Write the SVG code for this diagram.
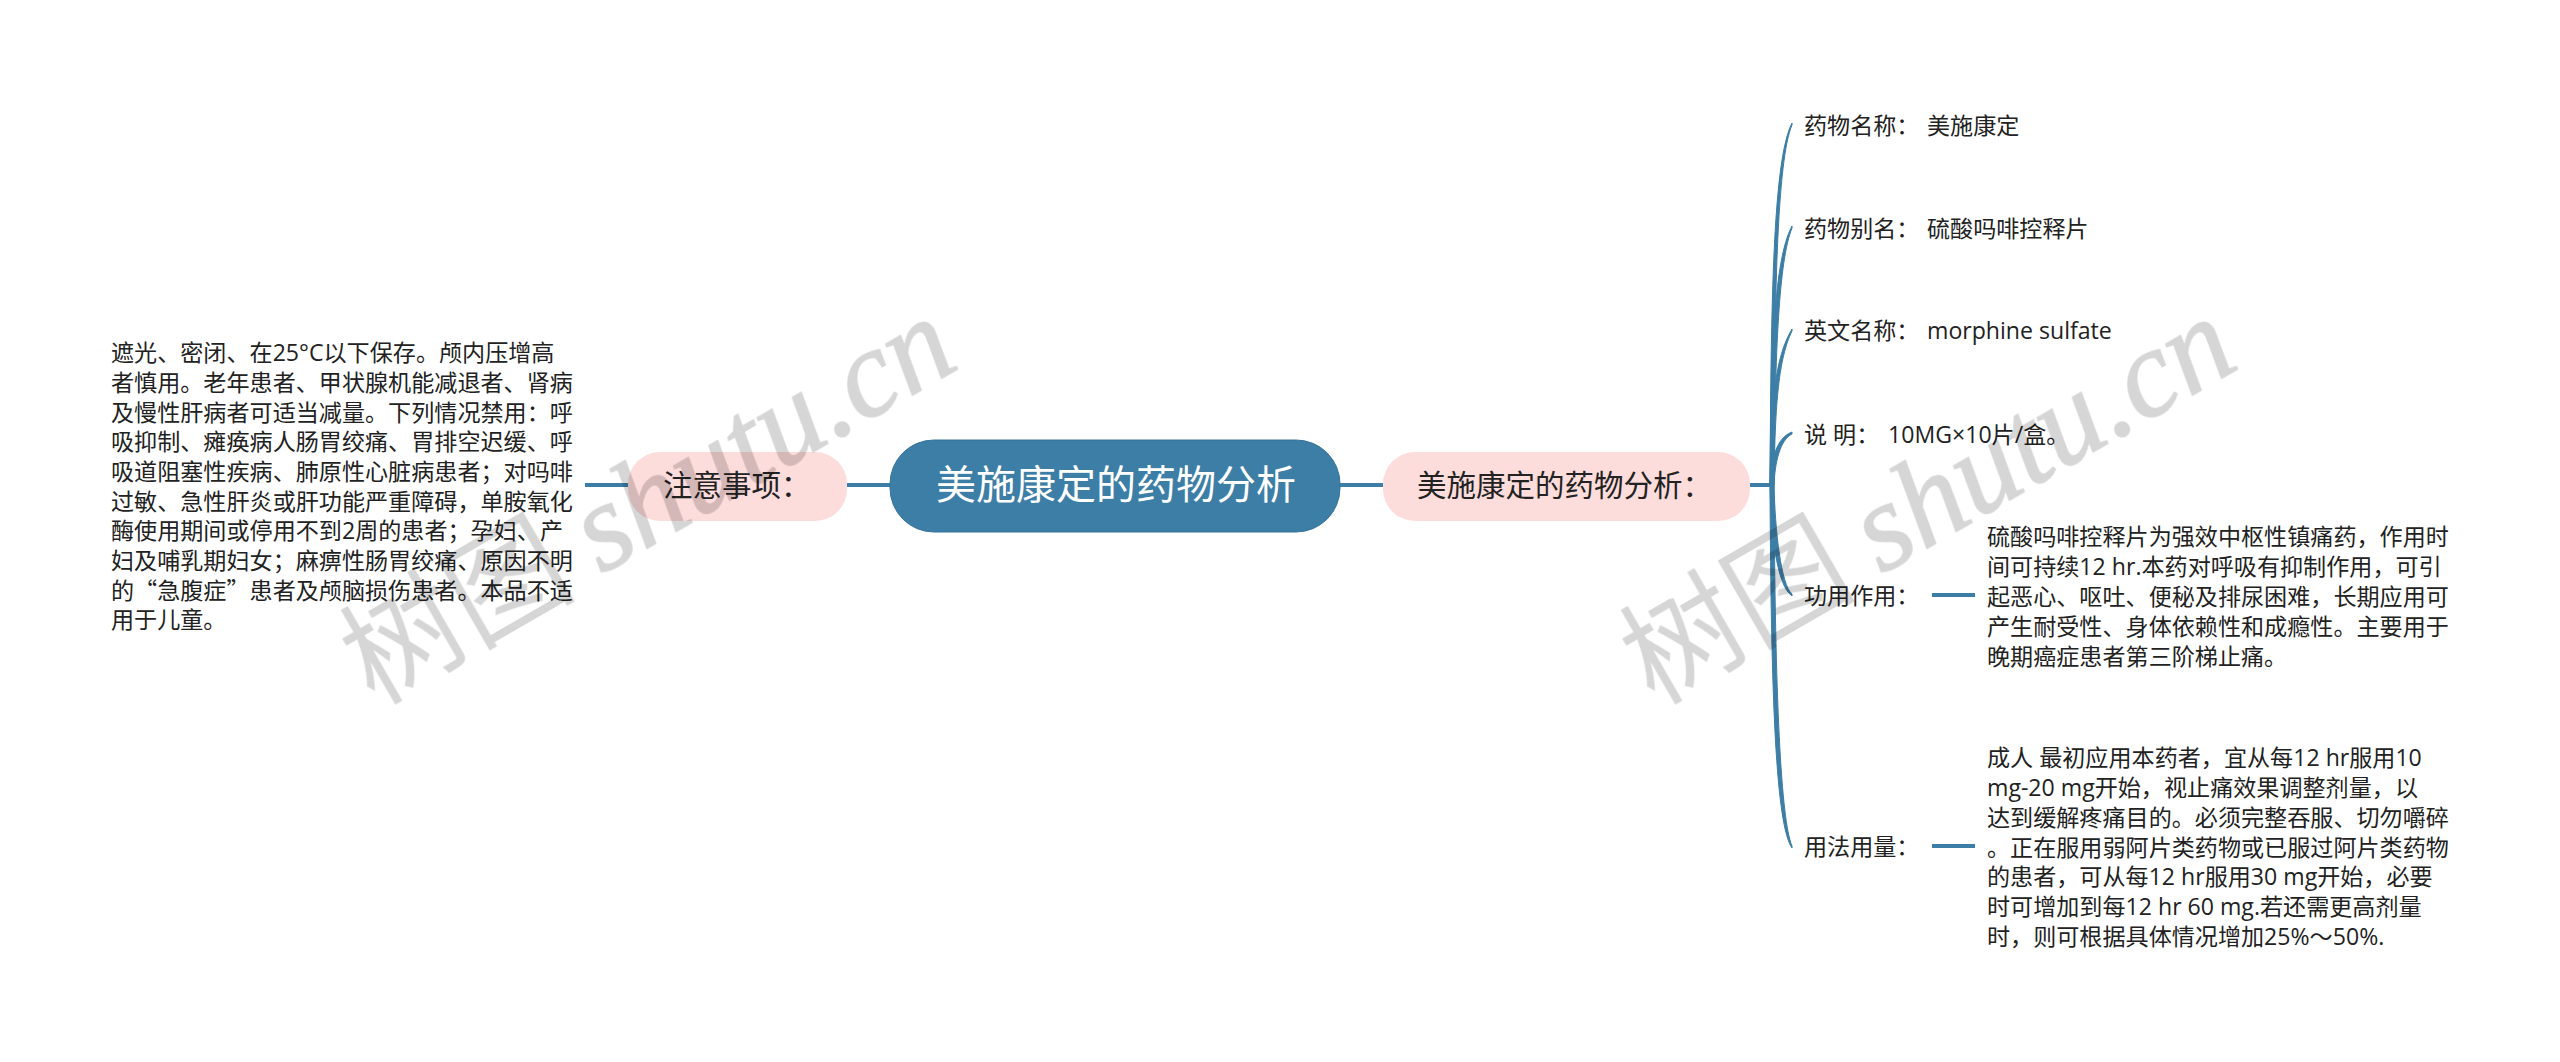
<svg xmlns="http://www.w3.org/2000/svg" width="2560" height="1062" viewBox="0 0 2560 1062">
<style>
text{font-family:"Open Sans","Noto Sans CJK SC",sans-serif;fill:#222}
.t{font-size:23.1px}
.q{font-family:"Noto Sans CJK SC",sans-serif}
.sub{font-size:29.5px}
.root{font-size:40px;fill:#fff}
.l{fill:none;stroke:#3d7ea6;stroke-width:4}
.b{fill:#3d7ea6;stroke:#3d7ea6;stroke-width:1;stroke-linejoin:round}
#watermark{mix-blend-mode:multiply}
.wm{font-family:"Noto Sans CJK SC",sans-serif;font-size:118px;fill:#d6d6d6}
.wl{font-family:"Liberation Serif",serif;font-style:italic;font-size:124px;fill:#d6d6d6;stroke:#d6d6d6;stroke-width:1.5}
</style>
<rect width="2560" height="1062" fill="#fff"/>
<g id="connectors">
<path class="l" d="M585 485H628M847 485H890M1340 485H1383M1750 485H1772"/>
<path class="b" d="M1770 485C1771 300 1773 160 1792 123V125C1777 160 1774 300 1774 485Z"/>
<path class="b" d="M1770 485C1771 350 1774 260 1792 226V228C1779 260 1775 350 1774 485Z"/>
<path class="b" d="M1770 485C1771 400 1775 358 1792 329V331C1779 358 1775 400 1774 485Z"/>
<path class="b" d="M1770 485C1771 460 1776 438 1792 432V434C1780 440 1775 462 1774 485Z"/>
<path class="b" d="M1770 485C1771 530 1776 585 1792 596V594C1781 585 1775 530 1774 485Z"/>
<path class="b" d="M1770 485C1771 700 1776 825 1792 848V846C1781 820 1775 700 1774 485Z"/>
<path class="l" d="M1932 595H1975M1932 846H1975"/>
</g>
<g id="root"><rect x="890" y="440" width="450" height="92" rx="44" fill="#3d7ea6" stroke="#35729a"/><text class="root" x="936" y="499" style="font-family:'Noto Sans CJK SC',sans-serif">美施康定的药物分析</text></g>
<g id="n-right"><rect x="1383" y="452" width="367" height="69" rx="32" fill="#fddcdc"/><text class="sub" x="1417" y="496">美施康定的药物分析：</text></g>
<g id="n-left"><rect x="628" y="452" width="219" height="69" rx="32" fill="#fddcdc"/><text class="sub" x="663" y="496">注意事项：</text></g>
<g id="n-note">
<text class="t" x="111" y="361">遮光、密闭、在25°C以下保存。颅内压增高</text>
<text class="t" x="111" y="391">者慎用。老年患者、甲状腺机能减退者、肾病</text>
<text class="t" x="111" y="421">及慢性肝病者可适当减量。下列情况禁用：呼</text>
<text class="t" x="111" y="450">吸抑制、瘫痪病人肠胃绞痛、胃排空迟缓、呼</text>
<text class="t" x="111" y="480">吸道阻塞性疾病、肺原性心脏病患者；对吗啡</text>
<text class="t" x="111" y="510">过敏、急性肝炎或肝功能严重障碍，单胺氧化</text>
<text class="t" x="111" y="539">酶使用期间或停用不到2周的患者；孕妇、产</text>
<text class="t" x="111" y="569">妇及哺乳期妇女；麻痹性肠胃绞痛、原因不明</text>
<text class="t q" x="111" y="599">的“急腹症”患者及颅脑损伤患者。本品不适</text>
<text class="t" x="111" y="628">用于儿童。</text>
</g>
<g id="n-name"><text class="t" x="1804" y="134">药物名称：</text><text class="t" x="1927" y="134">美施康定</text></g>
<g id="n-alias"><text class="t" x="1804" y="237">药物别名：</text><text class="t" x="1927" y="237">硫酸吗啡控释片</text></g>
<g id="n-en"><text class="t" x="1804" y="339">英文名称：</text><text class="t" x="1927" y="339">morphine sulfate</text></g>
<g id="n-desc"><text class="t" x="1804" y="443">说 明：</text><text class="t" x="1888" y="443">10MG×10片/盒。</text></g>
<g id="n-use"><text class="t" x="1804" y="604">功用作用：</text>
<text class="t" x="1987" y="545">硫酸吗啡控释片为强效中枢性镇痛药，作用时</text>
<text class="t" x="1987" y="575">间可持续12 hr.本药对呼吸有抑制作用，可引</text>
<text class="t" x="1987" y="605">起恶心、呕吐、便秘及排尿困难，长期应用可</text>
<text class="t" x="1987" y="635">产生耐受性、身体依赖性和成瘾性。主要用于</text>
<text class="t" x="1987" y="665">晚期癌症患者第三阶梯止痛。</text></g>
<g id="n-dose"><text class="t" x="1804" y="855">用法用量：</text>
<text class="t" x="1987" y="766">成人 最初应用本药者，宜从每12 hr服用10</text>
<text class="t" x="1987" y="796">mg-20 mg开始，视止痛效果调整剂量，以</text>
<text class="t" x="1987" y="826">达到缓解疼痛目的。必须完整吞服、切勿嚼碎</text>
<text class="t" x="1987" y="856">。正在服用弱阿片类药物或已服过阿片类药物</text>
<text class="t" x="1987" y="885">的患者，可从每12 hr服用30 mg开始，必要</text>
<text class="t" x="1987" y="915">时可增加到每12 hr 60 mg.若还需更高剂量</text>
<text class="t" x="1987" y="945">时，则可根据具体情况增加25%～50%.</text></g>
<g id="watermark">
<text transform="translate(374 706) rotate(-30)"><tspan class="wm">树图 </tspan><tspan class="wl">shutu.cn</tspan></text>
<text transform="translate(1654 706) rotate(-30)"><tspan class="wm">树图 </tspan><tspan class="wl">shutu.cn</tspan></text>
</g>
</svg>
